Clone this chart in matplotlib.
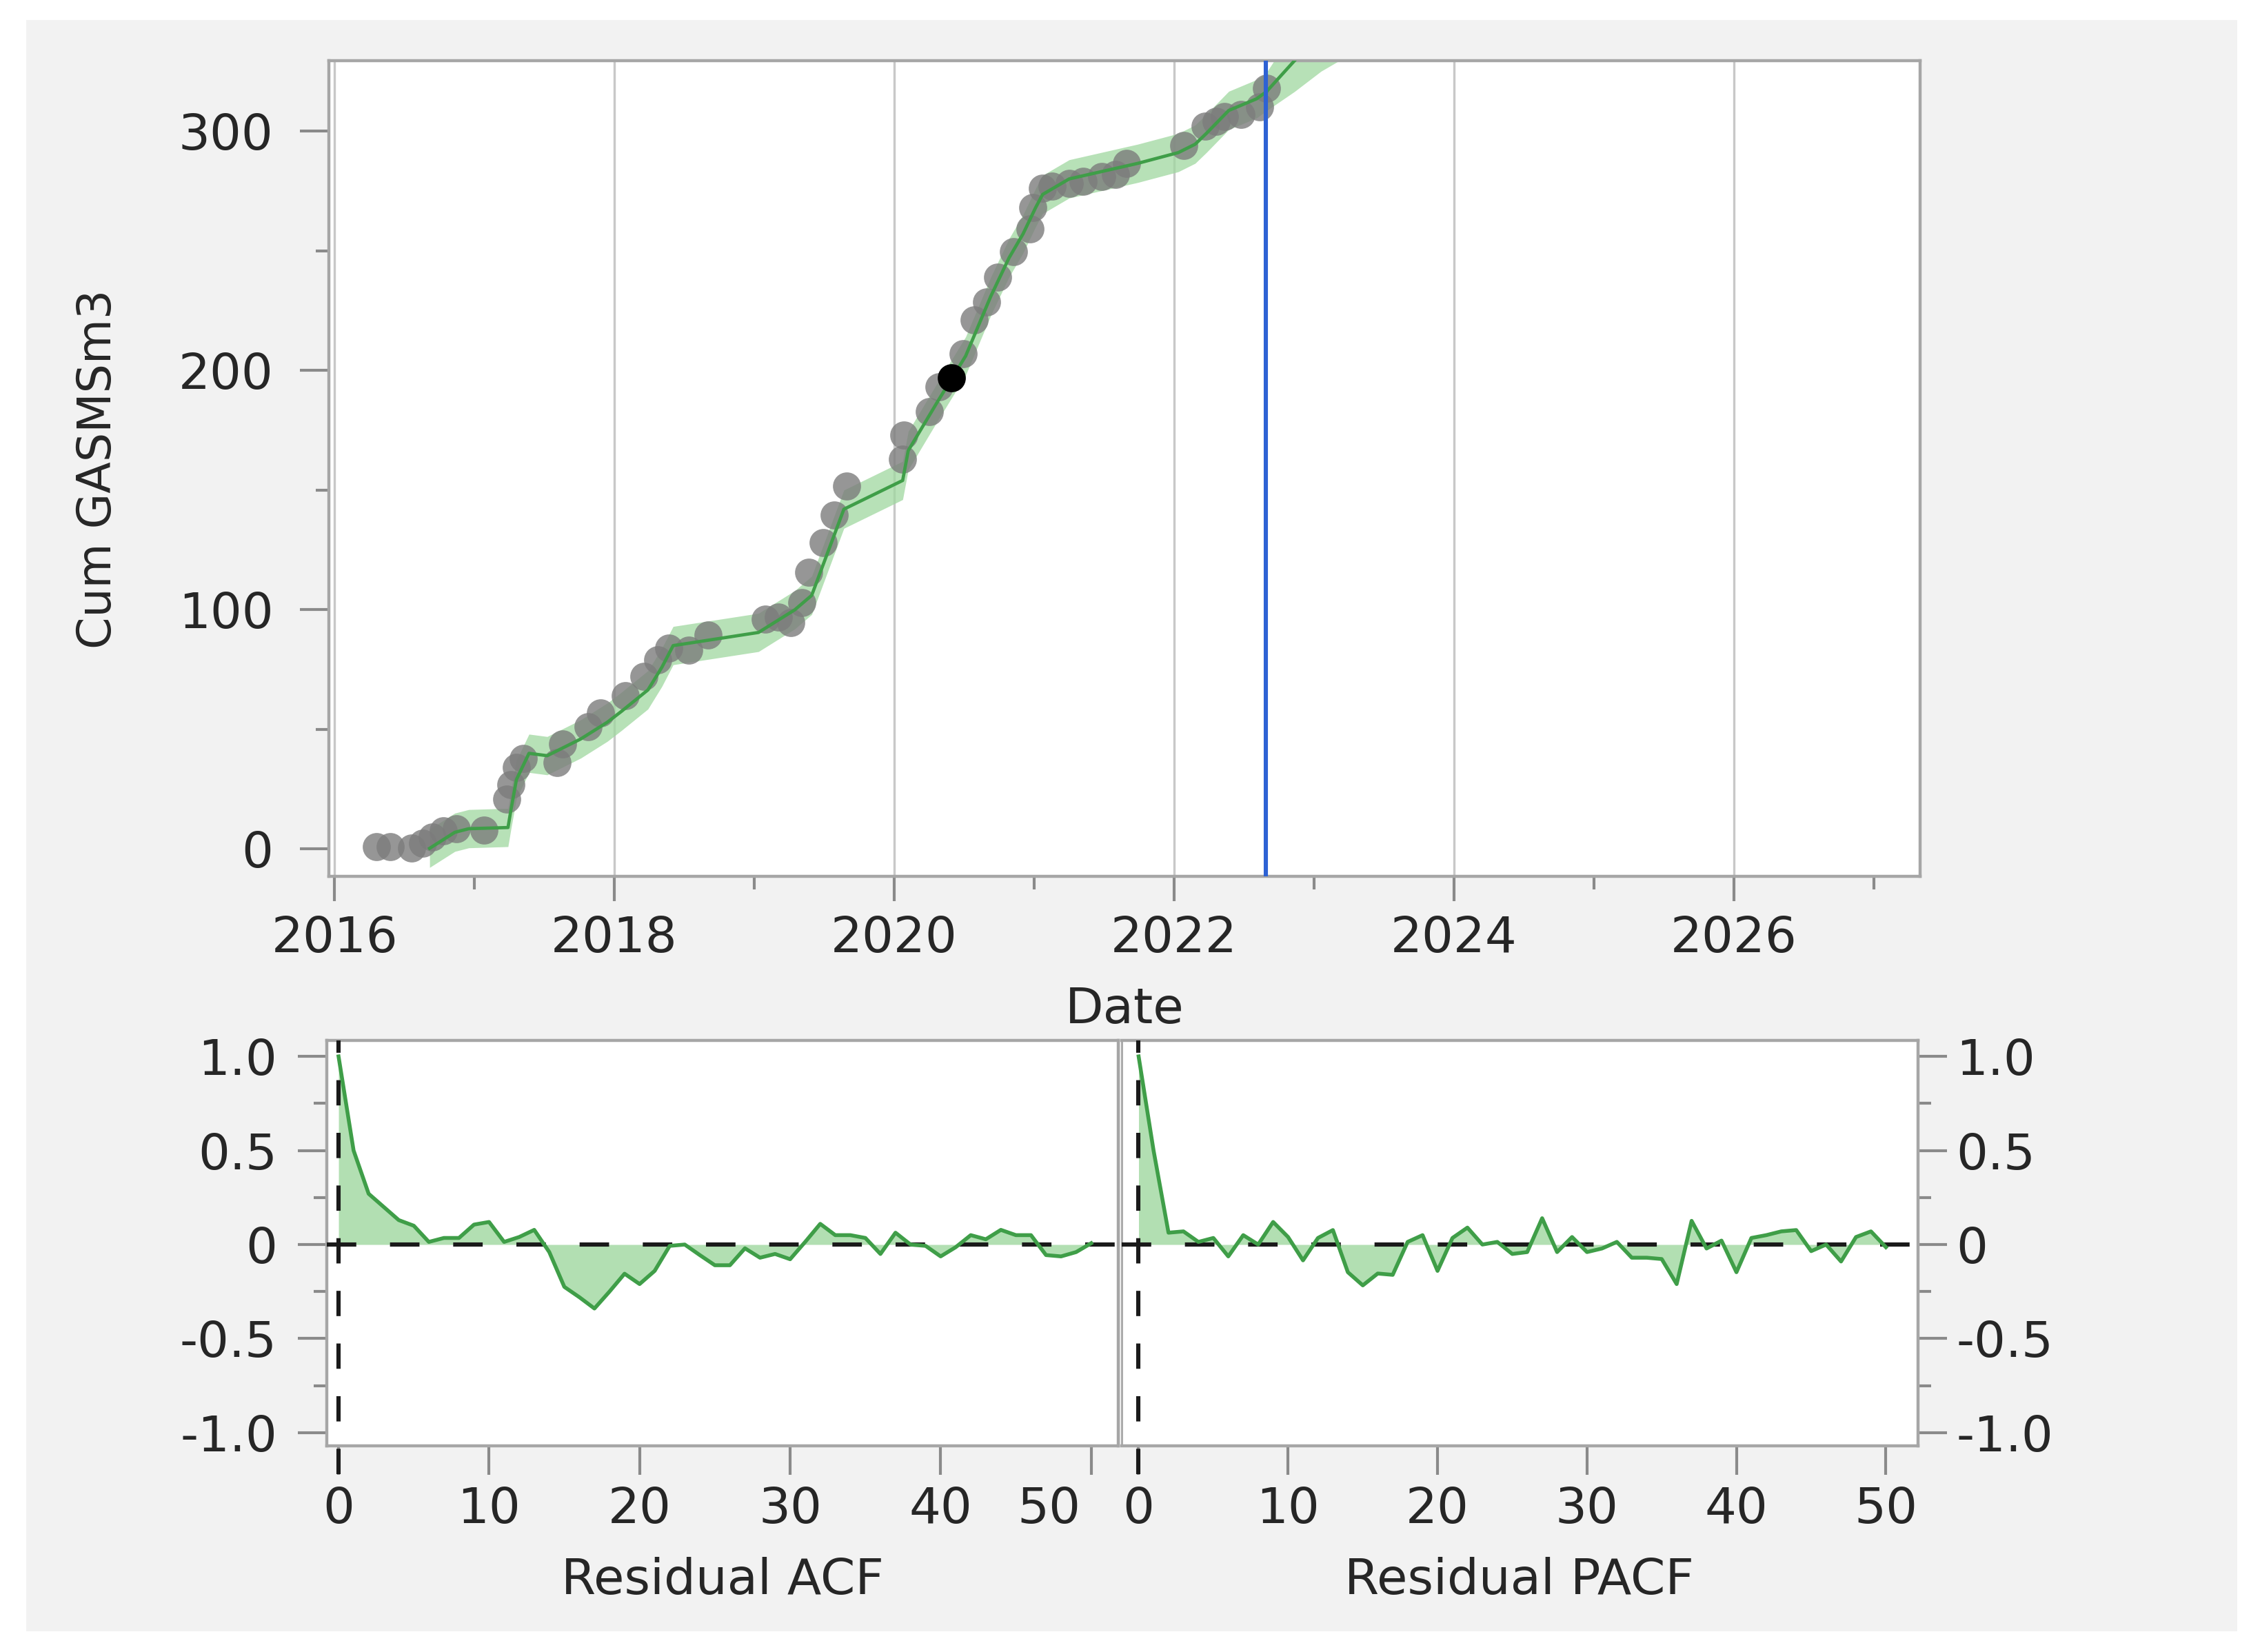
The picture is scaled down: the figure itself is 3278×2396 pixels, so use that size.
import numpy as np
import matplotlib.pyplot as plt
from matplotlib.patches import Rectangle
from matplotlib.ticker import FixedLocator, MultipleLocator

plt.rcParams['font.family'] = ['DejaVu Sans']

# observed cumulative gas (decimal year, value)
obs_dates = [2016.30, 2016.40, 2016.55, 2016.63, 2016.70, 2016.78, 2016.87, 2017.07,
             2017.23, 2017.26, 2017.30, 2017.35, 2017.59, 2017.63, 2017.81, 2017.90,
             2018.08, 2018.21, 2018.31, 2018.39, 2018.53, 2018.67, 2019.08, 2019.17,
             2019.26, 2019.34, 2019.39, 2019.49, 2019.57, 2019.66, 2020.06, 2020.07,
             2020.25, 2020.32, 2020.49, 2020.57, 2020.66, 2020.74, 2020.85, 2020.97,
             2020.99, 2021.06, 2021.13, 2021.25, 2021.35, 2021.48, 2021.58, 2021.66,
             2022.07, 2022.22, 2022.30, 2022.36, 2022.48, 2022.61, 2022.66]
obs_values = [0.9, 0.9, 0.3, 2.3, 5, 7.5, 8.4, 8,
              21, 27, 34, 38, 36, 44, 51, 57,
              64, 72, 79, 84, 83, 89.5, 96, 97,
              94.5, 103, 115.5, 128, 139.5, 151.6, 163, 173,
              182.7, 193, 207, 221, 228.5, 239, 249.6, 259,
              268, 276, 277, 278, 279, 281, 282, 286.5,
              294, 302, 304, 306, 307, 310, 318]
sel_date = 2020.41
sel_value = 197

# one-step-ahead fit and its band
fit_dates = [2016.68, 2016.86, 2016.96, 2017.24, 2017.26, 2017.30, 2017.39, 2017.52,
             2017.76, 2017.95, 2018.05, 2018.24, 2018.34, 2018.42, 2019.03, 2019.29,
             2019.41, 2019.64, 2020.06, 2020.10, 2020.31, 2020.51, 2020.69, 2020.82,
             2020.92, 2021.01, 2021.06, 2021.25, 2021.74, 2022.03, 2022.15, 2022.23,
             2022.39, 2022.59, 2022.66]
fit_values = [0.3, 7, 8.5, 9, 16, 29, 40, 39,
              46, 53, 57.5, 66.5, 76, 85, 90.5, 100,
              106, 142, 154, 166.5, 187, 206, 231, 247,
              257, 268, 273.5, 280, 286.5, 291, 294.5, 299,
              308.6, 313.5, 316.5]
fit_lower = [-7.7, -1, 0.5, 1, 8, 21, 32, 31,
             38, 45, 49.5, 58.5, 68, 77, 82.5, 92,
             98, 134, 146, 158.5, 179, 198, 223, 239,
             249, 260, 265.5, 272, 278.5, 283, 286.5, 291,
             300.6, 305.5, 308.5]
fit_upper = [8.3, 15, 16.5, 17, 24, 37, 48, 47,
             54, 61, 65.5, 74.5, 84, 93, 98.5, 108,
             114, 150, 162, 174.5, 195, 214, 239, 255,
             265, 276, 281.5, 288, 294.5, 299, 302.5, 307,
             316.6, 321.5, 324.5]

# forecast
fc_dates = [2022.66, 2022.86, 2023.05, 2023.30]
fc_values = [316.5, 329.4, 341.5, 357.5]
fc_lower = [308.5, 316.5, 325, 333.5]
fc_upper = [324.5, 342.5, 358, 381]
forecast_start = 2022.655

# residual ACF / PACF
lags = list(range(51))
acf = [1.0, 0.5, 0.27, 0.20, 0.13, 0.10, 0.014, 0.035, 0.035, 0.106,
       0.12, 0.014, 0.04, 0.078, -0.04, -0.225, -0.28, -0.34, -0.25, -0.155,
       -0.21, -0.14, -0.007, 0.0, -0.056, -0.11, -0.11, -0.02, -0.07, -0.05,
       -0.078, 0.014, 0.11, 0.05, 0.05, 0.035, -0.05, 0.063, 0.0, -0.007,
       -0.063, -0.014, 0.05, 0.028, 0.078, 0.05, 0.05, -0.056, -0.063, -0.04,
       0.007]
pacf = [1.0, 0.5, 0.063, 0.07, 0.014, 0.035, -0.063, 0.05, 0.0, 0.12,
        0.04, -0.084, 0.035, 0.077, -0.147, -0.217, -0.154, -0.161, 0.014, 0.05,
        -0.14, 0.035, 0.09, 0.0, 0.014, -0.05, -0.04, 0.14, -0.04, 0.04,
        -0.04, -0.021, 0.014, -0.07, -0.07, -0.077, -0.21, 0.126, -0.021, 0.021,
        -0.147, 0.035, 0.05, 0.07, 0.077, -0.035, 0.0, -0.09, 0.04, 0.07,
        -0.014]

year_ticks = [2016, 2018, 2020, 2022, 2024, 2026]
acf_yticks = [-1.0, -0.5, 0.0, 0.5, 1.0]
acf_ylabels = ['-1.0', '-0.5', '0', '0.5', '1.0']

W, H = 3278, 2396
fig = plt.figure(figsize=(W / 200, H / 200), dpi=200)
fig.patch.set_facecolor('white')
fig.patches.append(Rectangle((0.0116, 0.0125), 0.9784, 0.9755, transform=fig.transFigure,
                             facecolor='#f2f2f2', edgecolor='none', zorder=-10))


def box(l, t, r, b):
    return [l / W, 1 - b / H, (r - l) / W, (b - t) / H]


GREEN = '#3f9e48'
BAND = '#9fd89f'
FILL = '#aadcaa'
SPINE = '#a6a6a6'
TICK = '#8a8a8a'
TXT = '#262626'
FS = 26


def style(ax):
    ax.set_facecolor('white')
    for s in ax.spines.values():
        s.set_color(SPINE)
        s.set_linewidth(1.6)
    ax.tick_params(which='major', length=15, width=1.5, color=TICK, labelcolor=TXT, labelsize=FS)
    ax.tick_params(which='minor', length=7, width=1.5, color=TICK)


# ---- top: cumulative gas ----
ax = fig.add_axes(box(477, 88, 2785, 1271))
style(ax)
ax.fill_between(fit_dates, fit_lower, fit_upper, color=BAND, alpha=0.75, lw=0, zorder=2)
ax.fill_between(fc_dates, fc_lower, fc_upper, color=BAND, alpha=0.75, lw=0, zorder=2)
ax.scatter(obs_dates, obs_values, s=215, color='#7c7c7c', alpha=0.8, lw=0, zorder=3)
ax.plot(fit_dates, fit_values, color=GREEN, lw=1.7, zorder=4)
ax.plot(fc_dates, fc_values, color=GREEN, lw=1.7, zorder=4)
ax.scatter([sel_date], [sel_value], s=215, color='black', lw=0, zorder=5)
ax.axvline(forecast_start, color='#2e62d4', lw=2.2, zorder=5)
ax.set_xlim(2015.96, 2027.33)
ax.set_ylim(-11.4, 329.4)
ax.xaxis.set_major_locator(FixedLocator(year_ticks))
ax.xaxis.set_minor_locator(FixedLocator([y + 1 for y in year_ticks]))
ax.yaxis.set_major_locator(MultipleLocator(100))
ax.yaxis.set_minor_locator(MultipleLocator(50))
ax.grid(axis='x', which='major', color='#c8c8c8', lw=1.2, zorder=0)
ax.set_axisbelow(True)
ax.tick_params(axis='y', which='major', pad=14)
ax.tick_params(axis='x', which='major', length=13, pad=7)

fig.text(1631 / W, 1 - 1484 / H, 'Date', ha='center', va='baseline', fontsize=FS, color=TXT)
fig.text(142 / W, 1 - 680 / H, 'Cum GASMSm3', ha='center', va='center', rotation=90,
         fontsize=24, color=TXT)

# ---- bottom: residual ACF / PACF ----
ax_a = fig.add_axes(box(474, 1509, 1622, 2097))
ax_p = fig.add_axes(box(1627, 1509, 2782, 2097))

for a, vals, xl in [(ax_a, acf, (-0.78, 51.8)), (ax_p, pacf, (-1.13, 52.15))]:
    style(a)
    a.fill_between(lags, vals, 0, color=FILL, alpha=0.9, lw=0, zorder=2)
    a.plot(lags, vals, color=GREEN, lw=2.0, zorder=4)
    a.axhline(0, color='#1a1a1a', lw=2.2, ls=(0, (7, 8)), zorder=3)
    a.axvline(0, ymin=-0.07, ymax=1, color='#1a1a1a', lw=2.2, ls=(0, (6, 6.5)),
              zorder=3, clip_on=False)
    a.set_xlim(*xl)
    a.set_ylim(-1.07, 1.085)
    a.xaxis.set_major_locator(MultipleLocator(10))
    a.yaxis.set_major_locator(FixedLocator(acf_yticks))
    a.yaxis.set_minor_locator(FixedLocator([-0.75, -0.25, 0.25, 0.75]))
    a.set_yticklabels(acf_ylabels)
    a.tick_params(axis='x', which='major', length=15, pad=6)

ax_a.tick_params(axis='y', which='major', pad=11)
ax_a.set_xticks([0, 10, 20, 30, 40, 50])
ax_a.set_xticklabels(['0', '10', '20', '30', '40', ''])
ax_a.annotate('50', xy=(50, 0), xycoords=('data', 'axes fraction'), xytext=(-22, -21),
              textcoords='offset points', ha='center', va='top', fontsize=FS, color=TXT)

ax_p.spines['left'].set_linewidth(1.0)
ax_p.yaxis.tick_right()
ax_p.tick_params(axis='y', which='both', left=False)
ax_p.tick_params(axis='y', which='major', pad=5)

fig.text(1048 / W, 1 - 2312 / H, 'Residual ACF', ha='center', va='baseline', fontsize=FS, color=TXT)
fig.text(2204 / W, 1 - 2312 / H, 'Residual PACF', ha='center', va='baseline', fontsize=FS, color=TXT)

fig.savefig('out.png', dpi=200)
